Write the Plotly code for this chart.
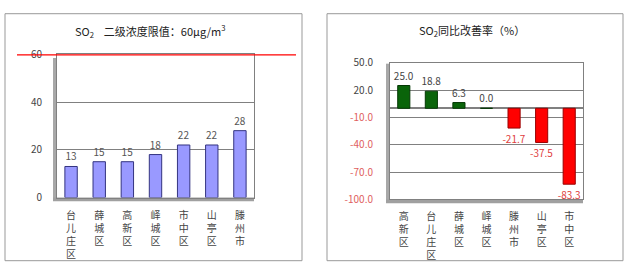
import plotly.graph_objects as go

# ---- data ----
left_categories = ["台儿庄区", "薛城区", "高新区", "峄城区", "市中区", "山亭区", "滕州市"]
left_values = [13, 15, 15, 18, 22, 22, 28]
limit_value = 60
left_ticks = [0, 20, 40, 60]

right_categories = ["高新区", "台儿庄区", "薛城区", "峄城区", "滕州市", "山亭区", "市中区"]
right_values = [25.0, 18.8, 6.3, 0.0, -21.7, -37.5, -83.3]
right_ticks = [50, 20, -10, -40, -70, -100]

W, H = 640, 279
FONT = "Noto Sans CJK SC"

def vert(s):
    return "<br>".join(list(s))

fig = go.Figure()

fig.add_trace(go.Bar(
    x=left_categories, y=left_values, xaxis="x", yaxis="y",
    marker=dict(color="#9999FF", line=dict(color="#333380", width=1)),
    text=[str(v) for v in left_values], textposition="outside",
    textfont=dict(color="#555555", size=10, family=FONT),
    constraintext="none", cliponaxis=False, showlegend=False,
))

pos_col = "#0A640A"
neg_col = "#FF0000"
fig.add_trace(go.Bar(
    x=right_categories, y=right_values, xaxis="x2", yaxis="y2",
    marker=dict(color=[pos_col if v >= 0 else neg_col for v in right_values],
                line=dict(color=["#043804" if v >= 0 else "#990000" for v in right_values], width=1)),
    text=[f"{v:.1f}" for v in right_values], textposition="outside",
    textfont=dict(color=["#444444" if v >= 0 else "#E04040" for v in right_values], size=10, family=FONT),
    constraintext="none", cliponaxis=False, showlegend=False,
))

def px_x(p):
    return p / W

def px_y(p):
    return 1 - p / H

axis_common = dict(showline=True, mirror=True, linecolor="#808080", linewidth=1)

fig.update_layout(
    width=W, height=H,
    margin=dict(l=0, r=0, t=0, b=0),
    paper_bgcolor="white", plot_bgcolor="white",
    font=dict(family=FONT, size=10, color="#333333"),
    bargap=0.56,
    xaxis=dict(domain=[px_x(57), px_x(254)], tickvals=left_categories,
               ticktext=[vert(c) for c in left_categories], tickangle=0,
               tickfont=dict(size=10, color="#444444"), ticks="", ticklabelstandoff=8,
               **axis_common),
    yaxis=dict(domain=[px_y(200), px_y(48)], range=[0, 60], tickvals=left_ticks,
               showgrid=True, gridcolor="#808080", zeroline=False,
               tickfont=dict(size=10, color="#444444"), ticks="", ticklabelstandoff=12,
               **axis_common),
    xaxis2=dict(domain=[px_x(390), px_x(583)], tickvals=right_categories,
                ticktext=[vert(c) for c in right_categories], tickangle=0, anchor="y2",
                tickfont=dict(size=10, color="#444444"), ticks="", ticklabelstandoff=8,
                **axis_common),
    yaxis2=dict(domain=[px_y(202), px_y(57)], range=[-100, 50], anchor="x2",
                tickvals=right_ticks,
                ticktext=[f"{t:.1f}" if t >= 0 else f"<span style='color:#E06060'>{t:.1f}</span>"
                          for t in right_ticks],
                showgrid=True, gridcolor="#808080", zeroline=True, zerolinecolor="#808080",
                tickfont=dict(size=10, color="#444444"), ticks="", ticklabelstandoff=14,
                **axis_common),
)

shapes = []
# panel borders
shapes.append(dict(type="rect", xref="paper", yref="paper",
                   x0=px_x(5), x1=px_x(302), y0=px_y(267), y1=px_y(5),
                   line=dict(color="#999999", width=1)))
shapes.append(dict(type="rect", xref="paper", yref="paper",
                   x0=px_x(327), x1=px_x(623), y0=px_y(267), y1=px_y(5),
                   line=dict(color="#999999", width=1)))
# 3D-like walls (decorative)
shapes.append(dict(type="rect", xref="paper", yref="paper",
                   x0=px_x(53), x1=px_x(57), y0=px_y(202), y1=px_y(52),
                   fillcolor="#A8A8A8", line=dict(width=0), layer="below"))
shapes.append(dict(type="rect", xref="paper", yref="paper",
                   x0=px_x(53), x1=px_x(254), y0=px_y(204), y1=px_y(200),
                   fillcolor="#A0A0A0", line=dict(width=0), layer="below"))
shapes.append(dict(type="rect", xref="paper", yref="paper",
                   x0=px_x(386), x1=px_x(390), y0=px_y(205), y1=px_y(58),
                   fillcolor="#A8A8A8", line=dict(width=0), layer="below"))
shapes.append(dict(type="rect", xref="paper", yref="paper",
                   x0=px_x(386), x1=px_x(583), y0=px_y(206), y1=px_y(202),
                   fillcolor="#A0A0A0", line=dict(width=0), layer="below"))
# limit line
shapes.append(dict(type="line", xref="paper", yref="y",
                   x0=px_x(17), x1=px_x(296), y0=limit_value, y1=limit_value,
                   line=dict(color="#FF0000", width=2.5)))
fig.update_layout(shapes=shapes)

fig.update_layout(annotations=[
    dict(xref="paper", yref="paper", x=px_x(150), y=px_y(23), xanchor="center", yanchor="middle",
         showarrow=False,
         text="SO<sub>2</sub>    二级浓度限值：60μg/m<sup>3</sup>",
         font=dict(size=11, color="#222222", family=FONT)),
    dict(xref="paper", yref="paper", x=px_x(472), y=px_y(23), xanchor="center", yanchor="middle",
         showarrow=False,
         text="SO<sub>2</sub>同比改善率（%）",
         font=dict(size=11, color="#222222", family=FONT)),
])

fig.write_html("out.html")
